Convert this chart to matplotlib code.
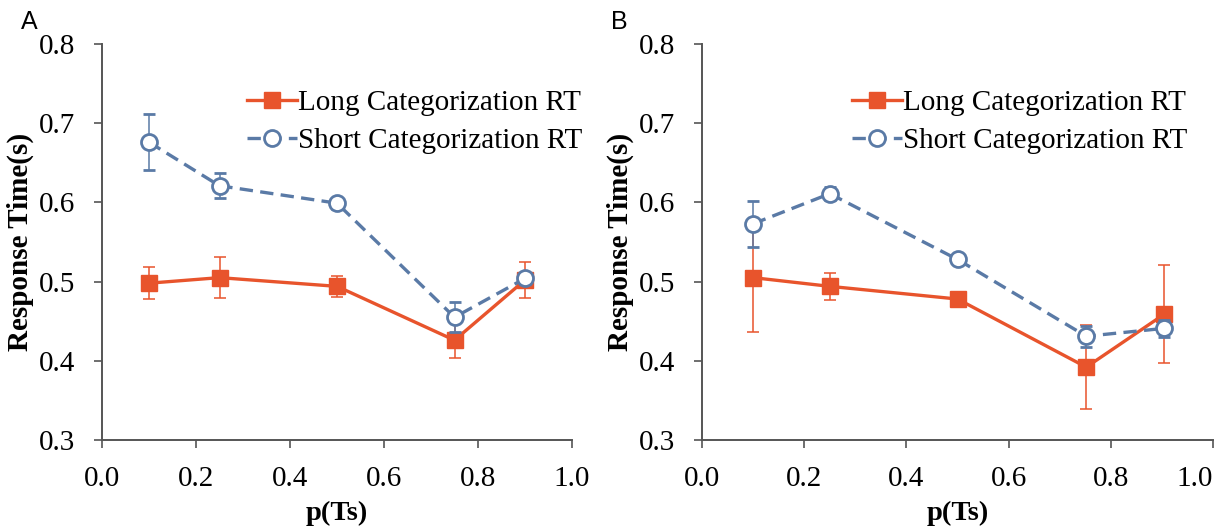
import matplotlib
matplotlib.use('Agg')
import matplotlib.pyplot as plt

# p(Ts) levels
x_a = [0.1, 0.25, 0.5, 0.75, 0.9]
x_b = [0.1, 0.25, 0.5, 0.752, 0.905]

# panel A
long_a = [0.498, 0.505, 0.494, 0.426, 0.502]
long_a_err = [0.020, 0.026, 0.013, 0.023, 0.023]
short_a = [0.676, 0.621, 0.599, 0.455, 0.504]
short_a_err = [0.035, 0.016, 0.007, 0.019, 0.007]

# panel B
long_b = [0.505, 0.494, 0.478, 0.392, 0.459]
long_b_err = [0.069, 0.017, 0.004, 0.053, 0.062]
short_b = [0.573, 0.611, 0.528, 0.431, 0.441]
short_b_err = [0.029, 0.008, 0.004, 0.013, 0.011]

yticks = [0.3, 0.4, 0.5, 0.6, 0.7, 0.8]
xticks = [0.0, 0.2, 0.4, 0.6, 0.8, 1.0]

RED = '#e8542c'
BLUE = '#5a7aa6'
SPINE = '#555555'

plt.rcParams['font.family'] = ['Liberation Serif', 'DejaVu Serif']

W, H = 1227, 528
fig = plt.figure(figsize=(W / 100, H / 100), dpi=100)


def px_axes(l, t, r, b):
    return fig.add_axes([l / W, 1 - b / H, (r - l) / W, (b - t) / H])


def panel(ax, x, lg, lge, sh, she, leg_x):
    c1 = ax.errorbar(x, lg, yerr=lge, color=RED, lw=2.4, marker='s', ms=11.5,
                     mfc=RED, mec=RED, ecolor=RED, elinewidth=1.1, capsize=4,
                     capthick=1.1, zorder=3)
    c2 = ax.errorbar(x, sh, yerr=she, color=BLUE, lw=2.4, ls=(0, (4, 2.2)),
                     marker='o', ms=11.5, mfc='white', mec=BLUE, mew=2,
                     ecolor=BLUE, elinewidth=1.1, capsize=4, capthick=1.1,
                     zorder=4)
    ax.set_xlim(0, 1.0)
    ax.set_ylim(0.3, 0.8)
    ax.set_xticks(xticks)
    ax.set_yticks(yticks)
    ax.set_xticklabels([f'{v:.1f}' for v in xticks])
    ax.set_yticklabels([f'{v:.1f}' for v in yticks])
    for s in ['top', 'right']:
        ax.spines[s].set_visible(False)
    for s in ['left', 'bottom']:
        ax.spines[s].set_color(SPINE)
        ax.spines[s].set_linewidth(1.4)
    ax.tick_params(direction='out', length=6, width=1.2, color=SPINE,
                   labelsize=21)
    ax.tick_params(axis='x', pad=13)
    ax.tick_params(axis='y', pad=13)
    ax.set_xlabel('p(Ts)', fontsize=20.5, fontweight='bold', labelpad=6)
    ax.set_ylabel('Response Time(s)', fontsize=21, fontweight='bold',
                  labelpad=4)
    ax.legend([c1.lines[0], c2.lines[0]],
              ['Long Categorization RT', 'Short Categorization RT'],
              loc='upper left', bbox_to_anchor=(leg_x, 0.885),
              frameon=False, fontsize=21, handlelength=1.7,
              handletextpad=0.05, labelspacing=0.4, borderpad=0,
              borderaxespad=0)


ax1 = px_axes(102, 44, 572, 440)
panel(ax1, x_a, long_a, long_a_err, short_a, short_a_err, 0.309)
ax2 = px_axes(702, 44, 1213, 440)
panel(ax2, x_b, long_b, long_b_err, short_b, short_b_err, 0.294)
# last tick label of panel B sits inside the figure edge
ax2.get_xticklabels()[-1].set_horizontalalignment('right')

fig.text(29 / W, 1 - 22 / H, 'A', fontsize=18, family='Liberation Sans',
         ha='center', va='center')
fig.text(619 / W, 1 - 22 / H, 'B', fontsize=18, family='Liberation Sans',
         ha='center', va='center')

fig.savefig('out.png', dpi=100, facecolor='white')
